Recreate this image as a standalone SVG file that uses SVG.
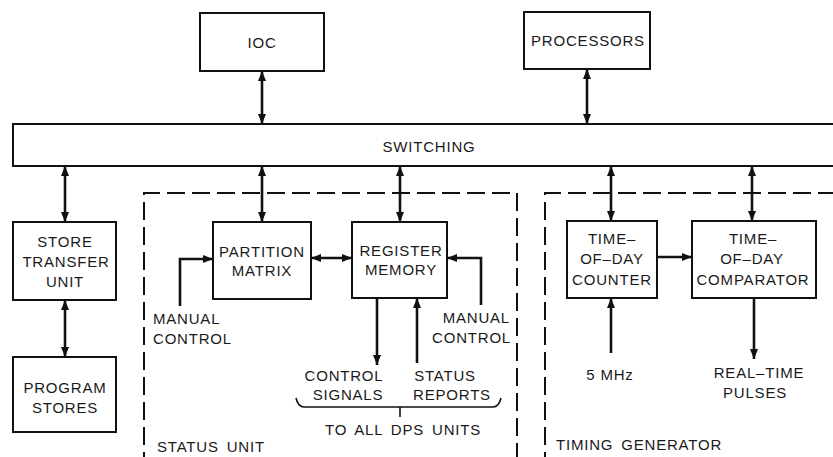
<svg xmlns="http://www.w3.org/2000/svg" width="833" height="457" viewBox="0 0 833 457">
<style>
.box{fill:#fff;stroke:#111;stroke-width:2}
.dash{fill:none;stroke:#111;stroke-width:2;stroke-dasharray:18 7}
.c{fill:none;stroke:#111;stroke-width:2.6}
.br{fill:none;stroke:#111;stroke-width:1.6}
text{font-family:"Liberation Sans",Arial,sans-serif;font-size:15px;fill:#1a1a1a;letter-spacing:0.8px}
.m{text-anchor:middle}
.e{text-anchor:end}
</style>
<defs>
<marker id="ah" viewBox="0 0 10 8" refX="10" refY="4" markerWidth="10" markerHeight="8" markerUnits="userSpaceOnUse" orient="auto-start-reverse">
<path d="M0,0 L10,4 L0,8 z" fill="#111"/>
</marker>
</defs>
<rect width="833" height="457" fill="#fff"/>

<g id="status-unit">
<path class="dash" d="M144,470 V193 H517 V470"/>
<text x="157" y="452" style="word-spacing:3px">STATUS UNIT</text>
</g>
<g id="timing-generator">
<path class="dash" d="M545,470 V193 H850"/>
<text x="556" y="450" style="word-spacing:3px">TIMING GENERATOR</text>
</g>

<g id="connectors">
<line class="c" x1="262" y1="71" x2="262" y2="124" marker-start="url(#ah)" marker-end="url(#ah)"/>
<line class="c" x1="587" y1="69" x2="587" y2="124" marker-start="url(#ah)" marker-end="url(#ah)"/>
<line class="c" x1="65" y1="166" x2="65" y2="222" marker-start="url(#ah)" marker-end="url(#ah)"/>
<line class="c" x1="65" y1="300" x2="65" y2="357" marker-start="url(#ah)" marker-end="url(#ah)"/>
<line class="c" x1="262" y1="166" x2="262" y2="222" marker-start="url(#ah)" marker-end="url(#ah)"/>
<line class="c" x1="400" y1="166" x2="400" y2="222" marker-start="url(#ah)" marker-end="url(#ah)"/>
<line class="c" x1="611" y1="166" x2="611" y2="221" marker-start="url(#ah)" marker-end="url(#ah)"/>
<line class="c" x1="752" y1="166" x2="752" y2="221" marker-start="url(#ah)" marker-end="url(#ah)"/>
<line class="c" x1="311" y1="258" x2="352" y2="258" marker-start="url(#ah)" marker-end="url(#ah)"/>
<path class="c" d="M180,306 V259 H213" marker-end="url(#ah)"/>
<path class="c" d="M481,305 V258 H447" marker-end="url(#ah)"/>
<line class="c" x1="377" y1="298" x2="377" y2="365" marker-end="url(#ah)"/>
<line class="c" x1="417" y1="363" x2="417" y2="298" marker-end="url(#ah)"/>
<line class="c" x1="657" y1="257" x2="692" y2="257" marker-end="url(#ah)"/>
<line class="c" x1="611" y1="353" x2="611" y2="298" marker-end="url(#ah)"/>
<line class="c" x1="754" y1="298" x2="754" y2="359" marker-end="url(#ah)"/>
<path class="br" d="M296,398 Q298,407 304,407 H493 Q499,407 501,398 M400,407 V417"/>
</g>

<g id="ioc">
<rect class="box" x="200" y="13" width="124" height="58"/>
<text class="m" x="262" y="48">IOC</text>
</g>
<g id="processors">
<rect class="box" x="524" y="12" width="126" height="57"/>
<text class="m" x="588" y="46">PROCESSORS</text>
</g>
<g id="switching">
<rect class="box" x="13" y="124" width="840" height="42"/>
<text class="m" x="429" y="152">SWITCHING</text>
</g>
<g id="store-transfer-unit">
<rect class="box" x="13" y="222" width="103" height="78"/>
<text class="m" x="65" y="247">STORE</text>
<text class="m" x="66" y="267">TRANSFER</text>
<text class="m" x="65" y="287">UNIT</text>
</g>
<g id="program-stores">
<rect class="box" x="13" y="357" width="103" height="75"/>
<text class="m" x="65" y="393">PROGRAM</text>
<text class="m" x="65" y="413">STORES</text>
</g>
<g id="partition-matrix">
<rect class="box" x="213" y="222" width="98" height="77"/>
<text class="m" x="262" y="257">PARTITION</text>
<text class="m" x="262" y="276">MATRIX</text>
</g>
<g id="register-memory">
<rect class="box" x="352" y="222" width="95" height="76"/>
<text class="m" x="401" y="256">REGISTER</text>
<text class="m" x="401" y="275">MEMORY</text>
</g>
<g id="manual-control-left">
<text x="153" y="324">MANUAL</text>
<text x="153" y="344">CONTROL</text>
</g>
<g id="manual-control-right">
<text class="e" x="510" y="323">MANUAL</text>
<text class="e" x="511" y="343">CONTROL</text>
</g>
<g id="control-signals">
<text class="m" x="344" y="381">CONTROL</text>
<text class="m" x="348" y="400">SIGNALS</text>
</g>
<g id="status-reports">
<text class="m" x="445" y="381">STATUS</text>
<text class="m" x="452" y="400">REPORTS</text>
</g>
<g id="to-all-dps-units">
<text class="m" x="403" y="435" style="word-spacing:3px">TO ALL DPS UNITS</text>
</g>
<g id="tod-counter">
<rect class="box" x="567" y="221" width="90" height="77"/>
<text class="m" x="612" y="244">TIME–</text>
<text class="m" x="612" y="264">OF–DAY</text>
<text class="m" x="612" y="285">COUNTER</text>
</g>
<g id="tod-comparator">
<rect class="box" x="692" y="221" width="124" height="77"/>
<text class="m" x="753" y="244">TIME–</text>
<text class="m" x="752" y="264">OF–DAY</text>
<text class="m" x="753" y="285">COMPARATOR</text>
</g>
<g id="five-mhz">
<text class="m" x="610" y="380">5 MHz</text>
</g>
<g id="real-time-pulses">
<text class="m" x="759" y="378">REAL–TIME</text>
<text class="m" x="755" y="398">PULSES</text>
</g>
</svg>
